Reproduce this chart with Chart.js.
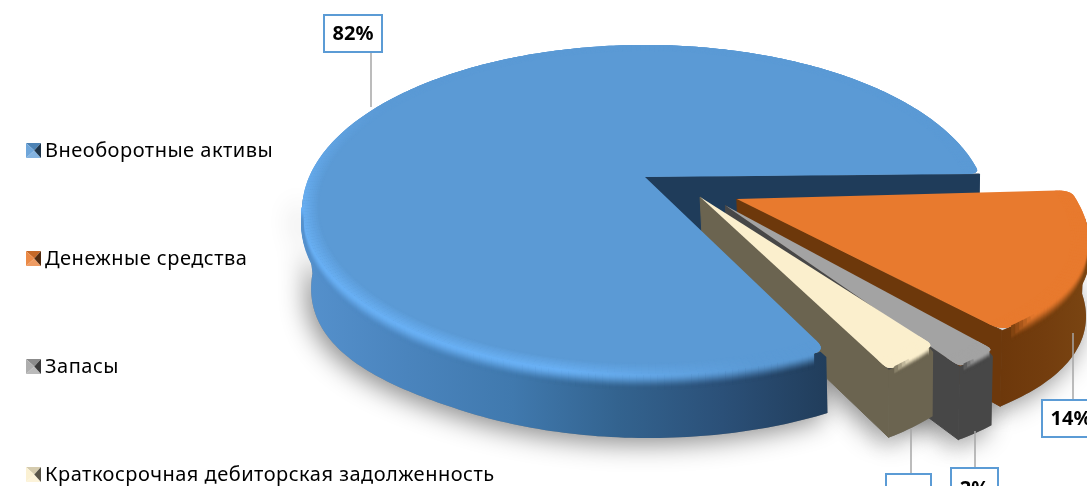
<!DOCTYPE html>
<html>
<head>
<meta charset="utf-8">
<script src="https://cdn.jsdelivr.net/npm/chart.js@4"></script>
<style>
html, body { margin: 0; padding: 0; background: #fff; overflow: hidden; width: 1087px; height: 486px; }
canvas { display: block; }
</style>
</head>
<body>
<canvas id="pieChart" width="1300" height="624"></canvas>
<script>
// Chart data
const categories = ['Внеоборотные активы', 'Денежные средства', 'Запасы', 'Краткосрочная дебиторская задолженность'];
const shares = [82, 14, 2, 2];

// Slice colours
const faceColors = ['#5b9ad5', '#e87a2e', '#a3a3a3', '#fbefcd'];
const cutColors = ['#1f3c5a', '#6d380b', '#474747', '#6b6450'];
const wallStops = [
    ['#5591cd', '#4a84bd', '#4079ae', '#33638f', '#2b5078', '#213d5b'],
    ['#6d380b', '#733d0e', '#7a4512'],
    ['#474747', '#474747'],
    ['#6b6450', '#6b6450']
];
const rimColors = ['#69b0f4', '#e87a2e', '#a8a8a8', '#fbefcd'];

// 3D look of the pie
const TILT_K = 0.2;          // perspective of the disc
const WIDE = 1.976;          // disc width against chart radius
const FLAT = 0.932;          // disc height against chart radius
const DEPTH = 63;            // wall height
const VANISH_X = 900;
const sliceShift = [[0, 0], [0.266, 0.135], [0.231, 0.173], [0.16, 0.123]];
const sliceSize = [1, 0.95, 0.95, 0.9425];
const sliceTaper = [0, 0.06, 0, -0.025];
const sliceBulge = [0, 0.03, 0, 0];
const sliceTurn = [0, -0.035, 0, 0];
const sliceOpen = [0, 0, 0, 0.045];
const shoulderFade = [0, 0.12, 0.5, 0.5];

// Data label boxes and legend placing
const labelBoxes = [
    { x: 324, y: 15, w: 58, h: 37, lineX: 371, lineTo: 107 },
    { x: 1042, y: 400, w: 60, h: 37, lineX: 1073, lineTo: 333 },
    { x: 951, y: 468, w: 47, h: 40, lineX: 975, lineTo: 431 },
    { x: 886, y: 474, w: 45, h: 44, lineX: 911, lineTo: 429 }
];
const legendX = 26;
const legendRows = [151, 259, 367, 475];

function hex(c) {
    return [1, 3, 5].map(i => parseInt(c.substr(i, 2), 16));
}
function mix(a, b, t) {
    return [0, 1, 2].map(i => a[i] + (b[i] - a[i]) * t);
}
function rgb(c) {
    return 'rgb(' + c.map(Math.round).join(',') + ')';
}
function clamp(t) {
    return Math.max(0, Math.min(1, t));
}

function project(pie, u, v) {
    const d = 1 - TILT_K * v;
    return { x: pie.x + pie.R * WIDE * u / d, y: pie.y + pie.R * FLAT * v / d };
}
function drop(p) {
    const right = Math.min(13, Math.max(0, p.x - 830) * 0.08);
    const left = Math.pow(Math.max(0, 460 - p.x) / 150, 2) * 14;
    return { x: p.x + (VANISH_X - p.x) * 0.015, y: p.y + DEPTH + right + left };
}

// Radius of a slice along its arc, t runs from 0 to 1
function sliceRadius(i, t) {
    return sliceSize[i] + sliceTaper[i] * (0.5 - t) + sliceBulge[i] * Math.sin(Math.PI * t);
}

// Outline of one slice on the top of the pie
function sliceShape(pie, arc, i) {
    const [ou, ov] = sliceShift[i];
    const apex = project(pie, ou, ov);
    const a0 = arc.startAngle + sliceTurn[i] - sliceOpen[i], a1 = arc.endAngle + sliceTurn[i];
    const span = a1 - a0;
    const at = t => {
        const a = a0 + span * t, r = sliceRadius(i, t);
        const p = project(pie, ou + r * Math.cos(a), ov + r * Math.sin(a));
        p.sin = Math.sin(a);
        return p;
    };
    const bend = Math.min(0.035, span * 0.12) / span;
    const cornerPx = span < 0.5 ? 8 : 14;
    const raw = [], arcPts = [];
    const n = Math.max(6, Math.round(span * 60));
    for (let k = 0; k <= n; k++) raw.push(at(k / n));
    for (let k = 0; k <= n; k++) arcPts.push(at(bend + (1 - 2 * bend) * k / n));
    const roundCorner = (from, corner, to) => {
        const out = [];
        for (let k = 0; k <= 6; k++) {
            const t = k / 6, s = 1 - t;
            out.push({
                x: s * s * from.x + 2 * s * t * corner.x + t * t * to.x,
                y: s * s * from.y + 2 * s * t * corner.y + t * t * to.y
            });
        }
        return out;
    };
    const toward = (p, q, px) => {
        const d = Math.hypot(q.x - p.x, q.y - p.y);
        return { x: p.x + (q.x - p.x) * px / d, y: p.y + (q.y - p.y) * px / d };
    };
    const c0 = raw[0], c1 = raw[n];
    const rim = [].concat(
        roundCorner(toward(c0, apex, cornerPx), c0, arcPts[0]),
        arcPts,
        roundCorner(arcPts[n], c1, toward(c1, apex, cornerPx))
    );
    return { apex, raw, arcPts, rim, corner: c1, a0, a1, ou, ov };
}

function tracePoly(ctx, pts) {
    ctx.beginPath();
    pts.forEach((p, k) => k ? ctx.lineTo(p.x, p.y) : ctx.moveTo(p.x, p.y));
    ctx.closePath();
}

// Only the part of the round wall that faces the viewer
function wallPoly(s) {
    const front = s.raw.filter(p => p.sin > 0.1);
    const under = front.slice().reverse().map(drop);
    const upper = front.slice();
    // keep the rounded corner of the top free of wall colour
    if (front[0] === s.raw[0]) upper[0] = { x: front[0].x, y: front[0].y + 7 };
    return upper.concat(under);
}

function wallAt(i, x, s) {
    const stops = wallStops[i];
    const xs = wallPoly(s).map(p => p.x);
    const lo = Math.min.apply(null, xs), hi = Math.max.apply(null, xs);
    const t = clamp((x - lo) / (hi - lo)) * (stops.length - 1);
    const k = Math.min(stops.length - 2, Math.floor(t));
    return mix(hex(stops[k]), hex(stops[k + 1]), t - k);
}

function rimAt(i, p, sinA) {
    const face = hex(faceColors[i]);
    const fade = clamp((sinA + 0.5) / 0.7) * (1 - clamp((p.x - 560) / 200));
    return mix(face, hex(rimColors[i]), fade);
}

function drawOuterWall(ctx, s, i) {
    const poly = wallPoly(s);
    const xs = poly.map(p => p.x);
    const grad = ctx.createLinearGradient(Math.min.apply(null, xs), 0, Math.max.apply(null, xs), 0);
    wallStops[i].forEach((c, k) => grad.addColorStop(k / (wallStops[i].length - 1), c));
    ctx.fillStyle = grad;
    tracePoly(ctx, poly);
    ctx.fill();
}

function drawCutWall(ctx, s, i) {
    ctx.fillStyle = cutColors[i];
    ctx.strokeStyle = cutColors[i];
    ctx.lineWidth = 1;
    tracePoly(ctx, [s.apex, s.corner, drop(s.corner), drop(s.apex)]);
    ctx.fill();
    ctx.stroke();
}

function drawTop(ctx, pie, s, i) {
    const top = [s.apex].concat(s.rim);
    ctx.fillStyle = faceColors[i];
    tracePoly(ctx, top);
    ctx.fill();

    // soft light band inside the edge of the top
    ctx.save();
    tracePoly(ctx, top);
    ctx.clip();
    ctx.lineWidth = 2.5;
    const n = s.arcPts.length - 1;
    const spot = (t, inset) => {
        const a = s.a0 + (s.a1 - s.a0) * t;
        const r = sliceRadius(i, t) * (1 - inset);
        return project(pie, s.ou + r * Math.cos(a), s.ov + r * Math.sin(a));
    };
    for (let step = 0; step <= 8; step++) {
        const inset = 0.045 * (1 - step / 8);
        for (let k = 0; k < n; k++) {
            const p = spot(k / n, inset), q = spot((k + 1) / n, inset);
            const a = s.a0 + (s.a1 - s.a0) * k / n;
            ctx.strokeStyle = rgb(mix(hex(faceColors[i]), rimAt(i, p, Math.sin(a)), step / 8));
            ctx.beginPath();
            ctx.moveTo(p.x, p.y);
            ctx.lineTo(q.x, q.y);
            ctx.stroke();
        }
    }
    ctx.restore();
}

// Rounded shoulder from the top into the wall
function drawShoulder(ctx, s, i) {
    const steps = i < 2 ? 14 : 8;
    const n = s.arcPts.length - 1;
    ctx.lineWidth = 2;
    for (let lvl = 0; lvl <= steps; lvl++) {
        const t = lvl / steps;
        const soft = t * t * (3 - 2 * t);
        for (let k = 0; k < n; k++) {
            const p = s.arcPts[k], q = s.arcPts[k + 1];
            if (p.sin < 0.2) continue;
            // the shoulder dies out towards the cut wall
            const f = shoulderFade[i];
            const out = f ? clamp((k / n - (1 - f)) / f) : 0;
            const col = mix(rimAt(i, p, p.sin), wallAt(i, p.x, s), Math.max(soft, out));
            ctx.strokeStyle = rgb(col);
            ctx.beginPath();
            ctx.moveTo(p.x, p.y + lvl);
            ctx.lineTo(q.x, q.y + lvl);
            ctx.stroke();
        }
    }
}

function legendMarker(ctx, x, y, color) {
    const c = hex(color), size = 15;
    const tri = (ax, ay, bx, by, col) => {
        ctx.fillStyle = rgb(col);
        ctx.beginPath();
        ctx.moveTo(x + size * 0.55, y + size / 2);
        ctx.lineTo(ax, ay);
        ctx.lineTo(bx, by);
        ctx.closePath();
        ctx.fill();
    };
    tri(x, y, x + size, y, mix(c, [0, 0, 0], 0.15));
    tri(x, y + size, x + size, y + size, mix(c, [255, 255, 255], 0.25));
    tri(x, y, x, y + size, mix(c, [255, 255, 255], 0.12));
    tri(x + size, y, x + size, y + size, mix(c, [0, 0, 0], 0.65));
}

const piePlugin = {
    id: 'pie3d',
    beforeDatasetsDraw(chart) {
        const ctx = chart.ctx;
        const arcs = chart.getDatasetMeta(0).data;
        const pie = { x: arcs[0].x, y: arcs[0].y, R: arcs[0].outerRadius };
        const shapes = arcs.map((arc, i) => sliceShape(pie, arc, i));

        // soft shadow under everything
        ctx.save();
        ctx.shadowColor = 'rgba(0,0,0,0.45)';
        ctx.shadowBlur = 26;
        ctx.shadowOffsetX = -5;
        ctx.shadowOffsetY = 6;
        ctx.fillStyle = '#888';
        shapes.forEach((s, i) => {
            tracePoly(ctx, wallPoly(s));
            ctx.fill();
            if (i > 0) {
                tracePoly(ctx, [s.apex, s.corner, drop(s.corner), drop(s.apex)]);
                ctx.fill();
            }
        });
        ctx.restore();

        drawCutWall(ctx, shapes[0], 0);
        for (let i = 1; i < arcs.length; i++) {
            drawOuterWall(ctx, shapes[i], i);
            drawCutWall(ctx, shapes[i], i);
            drawTop(ctx, pie, shapes[i], i);
            drawShoulder(ctx, shapes[i], i);
        }
        drawOuterWall(ctx, shapes[0], 0);
        drawTop(ctx, pie, shapes[0], 0);
        drawShoulder(ctx, shapes[0], 0);
        return false;
    },
    afterDraw(chart) {
        const ctx = chart.ctx;

        // data labels with leader lines
        chart.data.datasets[0].data.forEach((v, i) => {
            const b = labelBoxes[i];
            ctx.strokeStyle = '#a6a6a6';
            ctx.lineWidth = 1.5;
            ctx.beginPath();
            ctx.moveTo(b.lineX, b.lineTo);
            ctx.lineTo(b.lineX, b.lineTo < b.y ? b.y : b.y + b.h);
            ctx.stroke();
            ctx.fillStyle = '#fff';
            ctx.fillRect(b.x, b.y, b.w, b.h);
            ctx.strokeStyle = '#5b9bd5';
            ctx.lineWidth = 2;
            ctx.strokeRect(b.x, b.y, b.w, b.h);
            ctx.fillStyle = '#000';
            ctx.font = 'bold 20px "Noto Sans"';
            ctx.textAlign = 'center';
            ctx.textBaseline = 'middle';
            ctx.fillText(v + '%', b.x + (i < 2 ? 29 : b.w / 2), b.y + b.h / 2 + 1);
        });

        // legend
        ctx.font = '20px "Noto Sans"';
        ctx.letterSpacing = '0.5px';
        ctx.textAlign = 'left';
        ctx.textBaseline = 'middle';
        chart.data.labels.forEach((label, i) => {
            legendMarker(ctx, legendX, legendRows[i] - 8, faceColors[i]);
            ctx.fillStyle = '#000';
            ctx.fillText(label, legendX + 19, legendRows[i]);
        });
        ctx.letterSpacing = '0px';
    }
};

// Create Chart
const ctxPie = document.getElementById('pieChart').getContext('2d');
const pieChart = new Chart(ctxPie, {
    type: 'pie',
    data: {
        labels: categories,
        datasets: [{
            data: shares,
            backgroundColor: faceColors,
            borderWidth: 0,
        }]
    },
    options: {
        responsive: false,
        animation: false,
        devicePixelRatio: 1,
        rotation: 153.7,
        layout: {
            padding: { left: 475, right: 485, top: 7, bottom: 277 },
        },
        plugins: {
            legend: { display: false },
            tooltip: { enabled: false },
        },
    },
    plugins: [piePlugin],
});
</script>
</body>
</html>
